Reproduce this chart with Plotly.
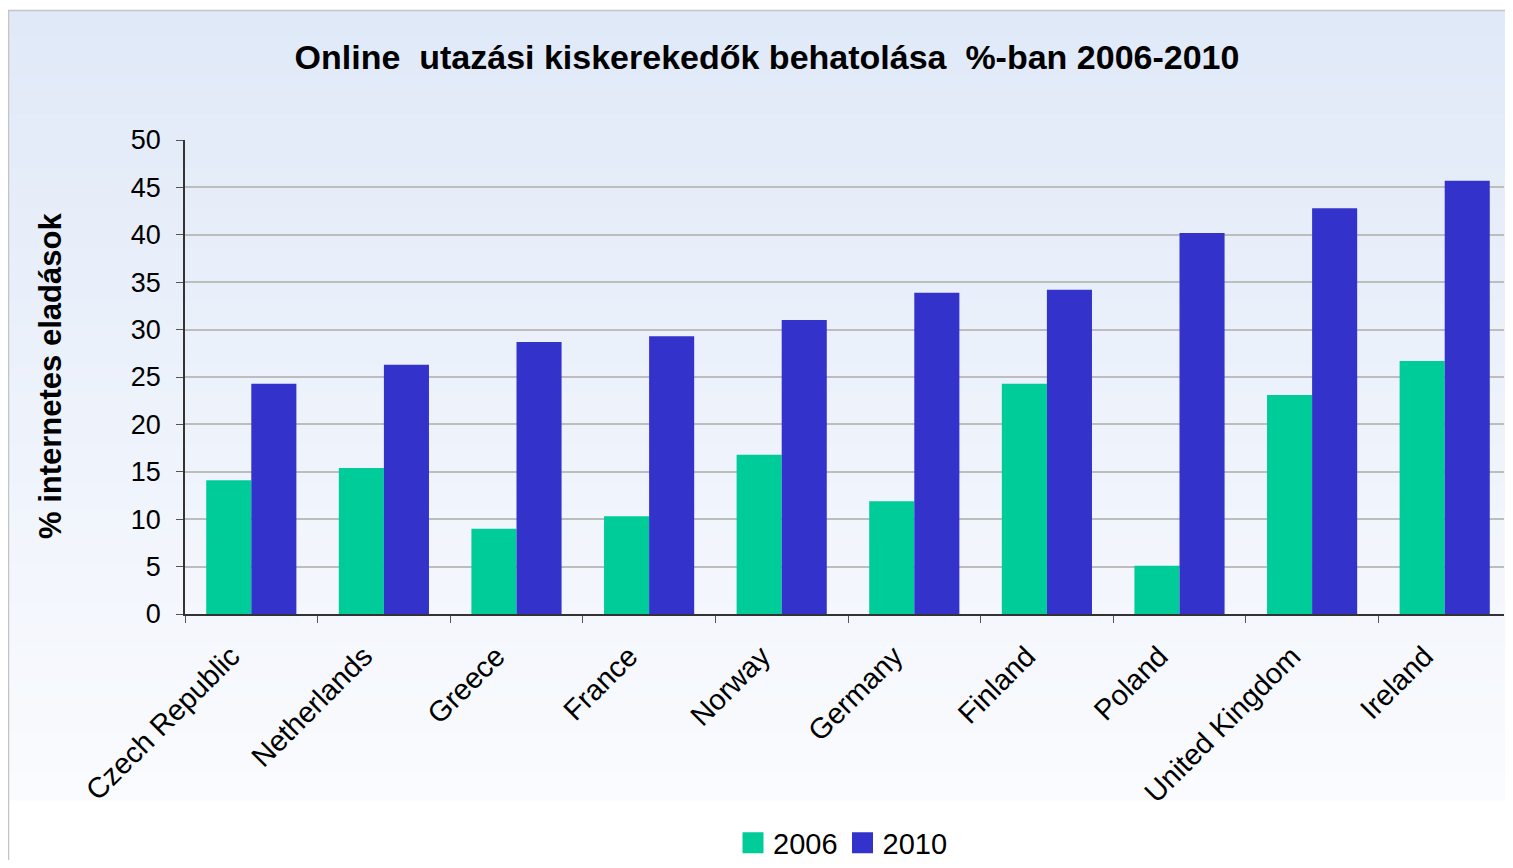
import plotly.graph_objects as go

countries = ["Czech Republic", "Netherlands", "Greece", "France", "Norway",
             "Germany", "Finland", "Poland", "United Kingdom", "Ireland"]
v2006 = [14.1, 15.4, 9.0, 10.3, 16.8, 11.9, 24.3, 5.1, 23.1, 26.7]
v2010 = [24.3, 26.3, 28.7, 29.3, 31.0, 33.9, 34.2, 40.2, 42.8, 45.7]
series_names = ["2006", "2010"]
colors = ["#00CC99", "#3333CC"]

# the page body adds an 8px margin on every side; lay out in reference pixels minus that offset
OFF = 8
W, H = 1513 - 2 * OFF, 868 - 2 * OFF
L = 185 - OFF
T = 140 - OFF
R = 1
B = H - (614 - OFF)
pw, ph = W - L - R, H - T - B
cat_w = (1512 - 186) / 10.0
x_max = -0.5 + pw / cat_w

def px_x(px):
    return (px - OFF - L) / pw

def px_y(py):
    return (H - B - (py - OFF)) / ph

fig = go.Figure()
for name, vals, col in zip(series_names, [v2006, v2010], colors):
    fig.add_trace(go.Bar(x=countries, y=vals, name=name, marker_color=col,
                         marker_line_width=0, showlegend=False))
for name, col in zip(series_names, colors):
    fig.add_trace(go.Scatter(x=[None], y=[None], mode="markers", name=name,
                             marker=dict(symbol="square", size=16, color=col,
                                         line=dict(color=col, width=5)),
                             showlegend=True))

# gradient background panel
shapes = []
top_px, bot_px = 10, 800
c_top = (224, 233, 248)
c_bot = (250, 251, 254)
n = 60
for i in range(n):
    y0 = top_px + (bot_px - top_px) * i / n
    y1 = top_px + (bot_px - top_px) * (i + 1) / n + 0.5
    t = i / (n - 1)
    c = tuple(int(round(a + (b - a) * t)) for a, b in zip(c_top, c_bot))
    shapes.append(dict(type="rect", xref="paper", yref="paper",
                       x0=px_x(8), x1=px_x(1520), y0=px_y(y1), y1=px_y(y0),
                       fillcolor="rgb(%d,%d,%d)" % c, line_width=0, layer="below"))
# border lines
shapes.append(dict(type="line", xref="paper", yref="paper",
                   x0=px_x(8.5), x1=px_x(8.5), y0=px_y(10), y1=px_y(880),
                   line=dict(color="#c4c4c4", width=1.5), layer="below"))
shapes.append(dict(type="line", xref="paper", yref="paper",
                   x0=px_x(8), x1=px_x(1520), y0=px_y(10.5), y1=px_y(10.5),
                   line=dict(color="#c4c4c4", width=1.5), layer="below"))

fig.update_layout(
    width=W, height=H,
    margin=dict(l=L, r=R, t=T, b=B, autoexpand=False),
    paper_bgcolor="white", plot_bgcolor="rgba(0,0,0,0)",
    font=dict(family="Liberation Sans, Arial, sans-serif", color="black"),
    barmode="group", bargap=0.32, bargroupgap=0,
    shapes=shapes,
    title=dict(text="<b>Online  utazási kiskerekedők behatolása  %-ban 2006-2010</b>",
               x=(767 - OFF) / W, xanchor="center", y=1 - (57 - OFF) / H, yanchor="middle",
               font=dict(size=34, color="black")),
    legend=dict(orientation="h", x=px_x(843), xanchor="center",
                y=px_y(843), yanchor="middle", font=dict(size=29),
                bgcolor="rgba(0,0,0,0)", itemwidth=30, tracegroupgap=0,
                borderwidth=0),
    annotations=[dict(text="<b>% internetes eladások</b>", xref="paper", yref="paper",
                      x=px_x(50), y=px_y(376), textangle=-90, showarrow=False,
                      xanchor="center", yanchor="middle", font=dict(size=31))],
)
fig.update_xaxes(showline=True, linecolor="#333333", linewidth=1.5,
                 ticks="outside", tickson="boundaries", ticklen=7, tickcolor="#555555",
                 tickangle=-45, tickfont=dict(size=29), showgrid=False,
                 ticklabelstandoff=12, ticklabelshift=-20, automargin=False,
                 range=[-0.5, x_max])
fig.update_yaxes(range=[0, 50], dtick=5, showline=True, linecolor="#333333", linewidth=1.5,
                 ticks="outside", ticklen=7, tickcolor="#555555",
                 tickfont=dict(size=27), showgrid=True, gridcolor="#bdbdbd", gridwidth=1.5,
                 zeroline=False, ticklabelstandoff=10, automargin=False)

fig.write_html("out.html")
